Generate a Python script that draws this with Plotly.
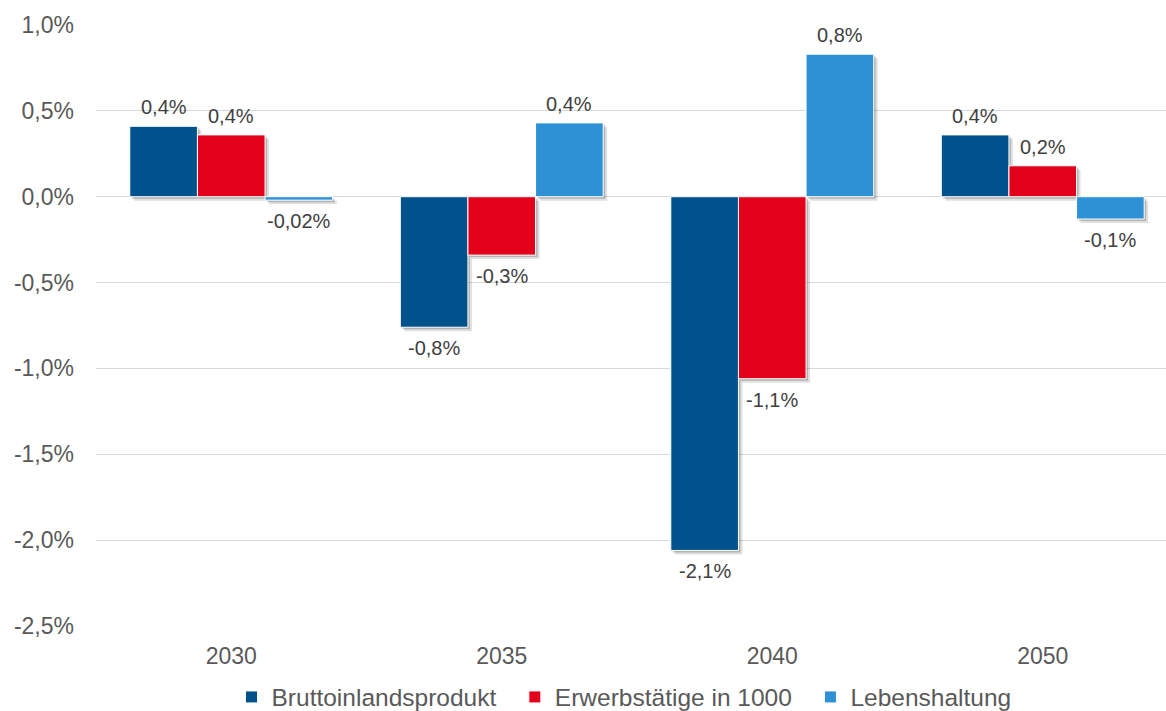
import plotly.graph_objects as go

# Veränderung gegenüber Referenz, in Prozent
years = ["2030", "2035", "2040", "2050"]
bip = [0.41, -0.76, -2.06, 0.36]
erwerbstaetige = [0.36, -0.34, -1.06, 0.18]
lebenshaltung = [-0.02, 0.43, 0.83, -0.13]

series_names = ["Bruttoinlandsprodukt", "Erwerbstätige in 1000", "Lebenshaltung"]
series_values = [bip, erwerbstaetige, lebenshaltung]
series_colors = ["#00528C", "#E2001A", "#2E91D6"]

y_ticks = [1.0, 0.5, 0.0, -0.5, -1.0, -1.5, -2.0, -2.5]

FONT = "Liberation Sans, Arial, sans-serif"
W, H = 1166, 711
M_L, M_R, M_T, M_B = 96, 0, 25, 85
PX_PER_CAT = 270.5
plot_w = W - M_L - M_R
plot_h = H - M_T - M_B
x_range = [-0.5, -0.5 + plot_w / PX_PER_CAT]
y_range = [-2.5, 1.0]
px_per_unit_y = plot_h / (y_range[1] - y_range[0])

BAR_W = 0.25
offsets = [-0.375 + i * BAR_W for i in range(3)]
LEGEND_PAD = "\u00a0\u00a0"  # a little extra room after each legend entry


def pct(v, dec):
    return f"{v:.{dec}f}".replace(".", ",") + "%"


def label(v):
    return pct(v, 2 if abs(v) < 0.05 else 1)


fig = go.Figure()

# soft drop shadow: two offset translucent layers behind each bar
shadow_layers = [(4, "rgba(0,0,0,0.12)"), (2, "rgba(0,0,0,0.20)")]
for shift_px, col in shadow_layers:
    dx = shift_px / PX_PER_CAT
    dy = shift_px / px_per_unit_y
    for off, vals in zip(offsets, series_values):
        fig.add_trace(go.Bar(
            x=years, y=vals, base=-dy, offset=off + dx, width=BAR_W,
            marker=dict(color=col, line=dict(width=0)),
            showlegend=False, hoverinfo="skip",
        ))

for name, off, vals, col in zip(series_names, offsets, series_values, series_colors):
    fig.add_trace(go.Bar(
        x=years, y=vals, name=name + LEGEND_PAD, offset=off, width=BAR_W,
        marker=dict(color=col, line=dict(color="white", width=1)),
        hovertemplate=name + " %{x}: %{y}%<extra></extra>",
    ))

# value labels above positive / below negative bars
for off, vals in zip(offsets, series_values):
    for i, v in enumerate(vals):
        fig.add_annotation(
            x=i + off + BAR_W / 2, y=v, xref="x", yref="y",
            text=label(v), showarrow=False,
            yanchor="bottom" if v >= 0 else "top",
            yshift=6 if v >= 0 else -8,
            font=dict(family=FONT, size=20, color="#404040"),
        )

fig.update_layout(
    width=W, height=H,
    margin=dict(l=M_L, r=M_R, t=M_T, b=M_B, autoexpand=False),
    paper_bgcolor="white", plot_bgcolor="white",
    barmode="group",
    font=dict(family=FONT, color="#595959"),
    legend=dict(
        orientation="h", x=0.5, xanchor="center",
        yref="container", y=1 - 697 / H, yanchor="middle",
        font=dict(family=FONT, size=24.5, color="#595959"),
        traceorder="normal",
    ),
)
fig.update_xaxes(
    type="category", categoryorder="array", categoryarray=years,
    range=x_range, showgrid=False, showline=False, zeroline=False,
    ticks="", ticklabelstandoff=14, automargin=False,
    tickfont=dict(family=FONT, size=23, color="#595959"),
)
fig.update_yaxes(
    range=y_range, tickmode="array", tickvals=y_ticks,
    ticktext=[pct(t, 1) for t in y_ticks],
    showgrid=True, gridcolor="#D9D9D9", gridwidth=1,
    zeroline=True, zerolinecolor="#D9D9D9", zerolinewidth=1,
    showline=False, ticks="", ticklabelstandoff=21, automargin=False,
    tickfont=dict(family=FONT, size=23, color="#595959"),
)

fig.write_html("out.html")
